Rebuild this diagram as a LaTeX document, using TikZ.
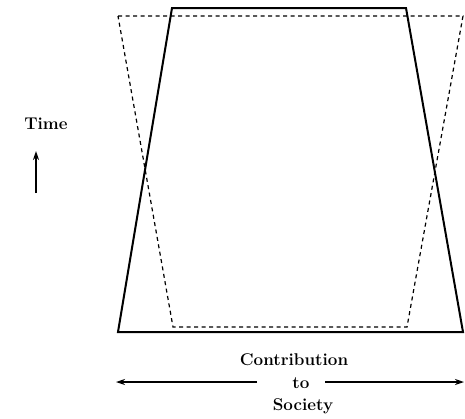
\documentclass[tikz,border=0pt]{standalone}
\usetikzlibrary{arrows.meta}
\begin{document}
\begin{tikzpicture}[x=1pt, y=-1pt,
    lbl/.style={font=\fontsize{17}{20}\selectfont\bfseries, inner sep=0pt},
    arr/.style={line width=1.8pt, -{Stealth[length=9pt, width=6pt]}}]
    \useasboundingbox (0,0) rectangle (465,418);

    % Corners
    \coordinate (st-tl) at (172,8);
    \coordinate (st-tr) at (406,8);
    \coordinate (st-br) at (463,332);
    \coordinate (st-bl) at (118,332);
    \coordinate (da-tl) at (118,16);
    \coordinate (da-tr) at (463,16);
    \coordinate (da-br) at (407,327);
    \coordinate (da-bl) at (173,327);

    % Solid and dashed shapes
    \draw[line width=2pt] (st-tl) -- (st-tr) -- (st-br) -- (st-bl) -- cycle;
    \draw[line width=1.2pt, dash pattern=on 4pt off 3.5pt] (da-tl) -- (da-tr) -- (da-br) -- (da-bl) -- cycle;

    % Time axis
    \node[lbl] (time) at (46,124) {Time};
    \coordinate (t-start) at (36,193);
    \coordinate (t-end) at (36,151);
    \draw[arr] (t-start) -- (t-end);

    % Contribution axis
    \node[lbl] (contrib) at (294,360) {Contribution};
    \node[lbl] (to) at (301,383) {to};
    \node[lbl] (society) at (303,406) {Society};
    \coordinate (l-start) at (257,382);
    \coordinate (l-end) at (116,382);
    \coordinate (r-start) at (325,382);
    \coordinate (r-end) at (464,382);
    \draw[arr] (l-start) -- (l-end);
    \draw[arr] (r-start) -- (r-end);
\end{tikzpicture}
\end{document}
